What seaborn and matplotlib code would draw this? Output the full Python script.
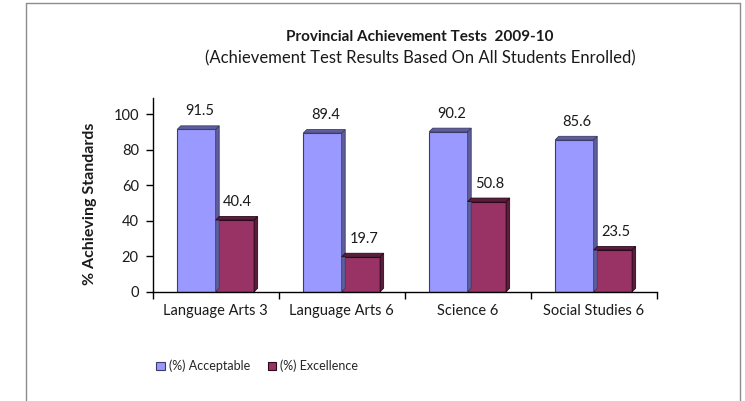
import matplotlib
matplotlib.use("Agg")
import matplotlib.pyplot as plt
import seaborn as sns
import pandas as pd
from matplotlib.patches import Polygon, Patch
from matplotlib.lines import Line2D

# --- dados ---
categorias = ["Language Arts 3", "Language Arts 6", "Science 6", "Social Studies 6"]
series = ["(%) Acceptable", "(%) Excellence"]
aceitavel = [91.5, 89.4, 90.2, 85.6]
excelencia = [40.4, 19.7, 50.8, 23.5]
yticks = [0, 20, 40, 60, 80, 100]

df = pd.DataFrame({
    "categoria": categorias * 2,
    "serie": [series[0]] * 4 + [series[1]] * 4,
    "valor": aceitavel + excelencia,
})

cores = {series[0]: "#9999FF", series[1]: "#993366"}
cores_lado = {series[0]: "#5E5E9E", series[1]: "#5A1E3C"}
cores_borda = {series[0]: "#3C3C64", series[1]: "#2A0A1A"}

sns.set_theme(style="white")
plt.rcParams["font.family"] = ["Lato", "DejaVu Sans"]

fig = plt.figure(figsize=(7.45, 4.01), dpi=100)
ax = fig.add_axes([152.7 / 745, 1 - 291.7 / 401, 504 / 745, 193.4 / 401])

sns.barplot(data=df, x="categoria", y="valor", hue="serie", order=categorias,
            hue_order=series, palette=cores, width=0.61, gap=0, ax=ax,
            legend=False, saturation=1, linewidth=0.8)

ax.set_xlim(-0.5, len(categorias) - 0.5)
ax.set_ylim(0, 109)
ax.set_yticks(yticks)

# profundidade 3D em pixels -> unidades de dados
px_x = (ax.transData.transform((1, 0))[0] - ax.transData.transform((0, 0))[0])
px_y = (ax.transData.transform((0, 1))[1] - ax.transData.transform((0, 0))[1])
dx = 3.5 / px_x
dy = 3.5 / px_y

n = len(categorias)
for i, barra in enumerate(ax.patches):
    serie = series[i // n]
    barra.set_edgecolor(cores_borda[serie])
    x0 = barra.get_x()
    x1 = x0 + barra.get_width()
    h = barra.get_height()
    lado = Polygon([(x1, 0), (x1 + dx, dy), (x1 + dx, h + dy), (x1, h)],
                   closed=True, facecolor=cores_lado[serie],
                   edgecolor=cores_borda[serie], linewidth=0.6, zorder=1.5)
    topo = Polygon([(x0, h), (x0 + dx, h + dy), (x1 + dx, h + dy), (x1, h)],
                   closed=True, facecolor=cores_lado[serie],
                   edgecolor=cores_borda[serie], linewidth=0.6, zorder=1.5)
    ax.add_patch(lado)
    ax.add_patch(topo)
    ax.annotate(f"{h:.1f}", (x0 + barra.get_width() / 2, h), xytext=(2, 13),
                textcoords="offset points", ha="center", va="center",
                fontsize=10.5, color="#1a1a1a")

# eixos estilo Excel
for s in ["top", "right"]:
    ax.spines[s].set_visible(False)
for s in ["left", "bottom"]:
    ax.spines[s].set_color("black")
    ax.spines[s].set_linewidth(1.0)
ax.set_xlabel("")
ax.set_ylabel("")
ax.set_xticks(range(n))
ax.set_xticklabels(categorias)
ax.set_xticks([i - 0.5 for i in range(n + 1)], minor=True)
ax.tick_params(axis="x", which="major", length=0, labelsize=10.5, pad=9, labelcolor="#1a1a1a")
ax.tick_params(axis="x", which="minor", length=5, width=1, color="black",
               direction="out", bottom=True)
ax.tick_params(axis="y", length=5, width=1, color="black", direction="out",
               labelsize=10.5, pad=5, left=True, labelcolor="#1a1a1a")
ax.grid(False)

# titulos
fig.text(420 / 745, 1 - 37 / 401, "Provincial Achievement Tests  2009-10",
         ha="center", va="center", fontsize=11, fontweight="bold", color="#1a1a1a")
fig.text(420 / 745, 1 - 58 / 401,
         "(Achievement Test Results Based On All Students Enrolled)",
         ha="center", va="center", fontsize=12, color="#1a1a1a")
fig.text(90 / 745, 1 - 204 / 401, "% Achieving Standards", rotation=90,
         ha="center", va="center", fontsize=11.5, fontweight="bold", color="#1a1a1a")

# legenda
handles = [Patch(facecolor=cores[s], edgecolor=cores_borda[s], linewidth=0.8) for s in series]
fig.legend(handles, series, loc="center left", bbox_to_anchor=(145 / 745, 1 - 366 / 401),
           ncol=2, frameon=False, fontsize=9, handlelength=0.7, handleheight=0.7,
           handletextpad=0.3, columnspacing=1.4)

# moldura (esquerda, topo, direita)
cor_moldura = "#8c8c8c"
x_esq, x_dir, y_top = 26 / 745, 740 / 745, 1 - 3 / 401
fig.add_artist(Line2D([x_esq, x_esq], [0, y_top], color=cor_moldura, linewidth=1))
fig.add_artist(Line2D([x_dir, x_dir], [0, y_top], color=cor_moldura, linewidth=1))
fig.add_artist(Line2D([x_esq, x_dir], [y_top, y_top], color=cor_moldura, linewidth=1))

fig.savefig("out.png", dpi=100)
